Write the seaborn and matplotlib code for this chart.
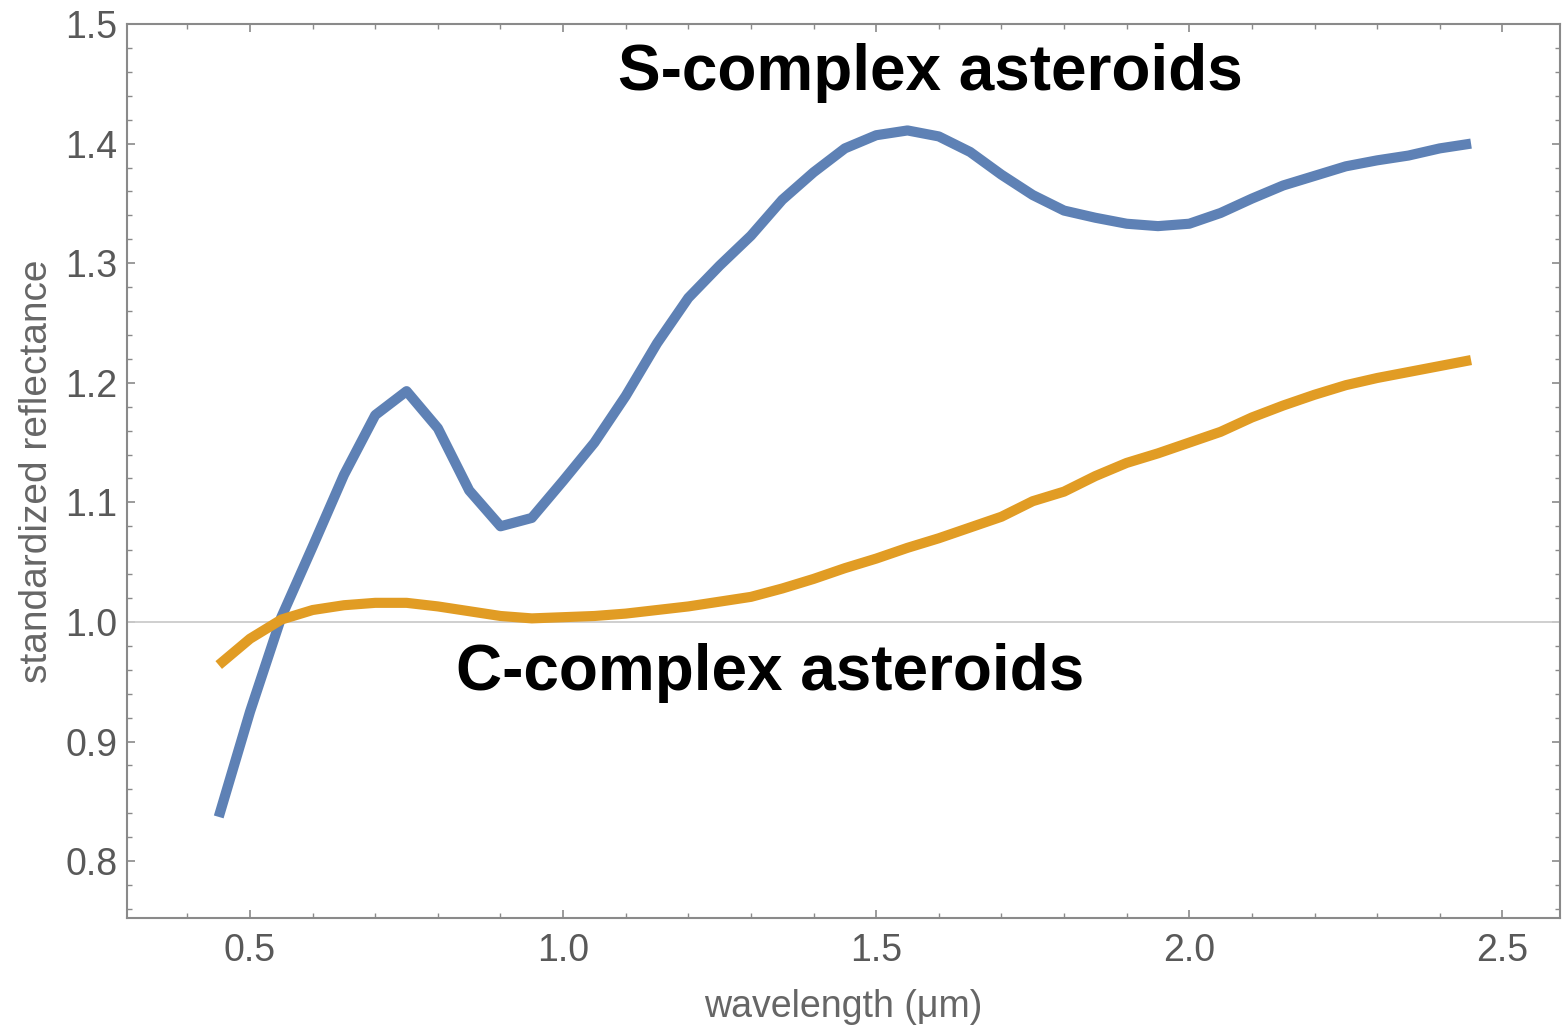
import pandas as pd
import matplotlib
matplotlib.use('Agg')
import matplotlib.pyplot as plt
from matplotlib.ticker import MultipleLocator, FormatStrFormatter
import seaborn as sns

# mean spectra
wavelength = [0.45, 0.50, 0.55, 0.60, 0.65, 0.70, 0.75, 0.80, 0.85, 0.90,
              0.95, 1.00, 1.05, 1.10, 1.15, 1.20, 1.25, 1.30, 1.35, 1.40,
              1.45, 1.50, 1.55, 1.60, 1.65, 1.70, 1.75, 1.80, 1.85, 1.90,
              1.95, 2.00, 2.05, 2.10, 2.15, 2.20, 2.25, 2.30, 2.35, 2.40, 2.45]

s_complex = [0.837, 0.925, 1.004, 1.063, 1.123, 1.173, 1.193, 1.162, 1.110, 1.080,
             1.087, 1.118, 1.150, 1.189, 1.233, 1.271, 1.298, 1.323, 1.353, 1.376,
             1.396, 1.407, 1.411, 1.406, 1.393, 1.374, 1.357, 1.344, 1.338, 1.333,
             1.331, 1.333, 1.342, 1.354, 1.365, 1.373, 1.381, 1.386, 1.390, 1.396, 1.400]

c_complex = [0.964, 0.986, 1.002, 1.010, 1.014, 1.016, 1.016, 1.013, 1.009, 1.005,
             1.003, 1.004, 1.005, 1.007, 1.010, 1.013, 1.017, 1.021, 1.028, 1.036,
             1.045, 1.053, 1.062, 1.070, 1.079, 1.088, 1.101, 1.109, 1.122, 1.133,
             1.141, 1.150, 1.159, 1.171, 1.181, 1.190, 1.198, 1.204, 1.209, 1.214, 1.219]

groups = ['S-complex asteroids', 'C-complex asteroids']
colors = {'S-complex asteroids': '#5e81b5', 'C-complex asteroids': '#e19c24'}

df = pd.DataFrame({
    'wavelength': wavelength + wavelength,
    'reflectance': s_complex + c_complex,
    'group': [groups[0]] * len(wavelength) + [groups[1]] * len(wavelength),
})

sns.set_style('white')
plt.rcParams['font.family'] = ['Liberation Sans', 'DejaVu Sans']

fig = plt.figure(figsize=(15.62, 10.26), dpi=100)
ax = fig.add_axes([0.0813, 0.1053, 0.9174, 0.8713])

ax.axhline(1.0, color='#cccccc', lw=1.3, zorder=1)
sns.lineplot(data=df, x='wavelength', y='reflectance', hue='group', hue_order=groups,
             palette=colors, linewidth=7.3, sort=False, legend=False, ax=ax,
             solid_capstyle='butt', solid_joinstyle='round', zorder=3)

ax.set_xlim(0.3035, 2.592)
ax.set_ylim(0.7525, 1.5)

ax.xaxis.set_major_locator(MultipleLocator(0.5))
ax.xaxis.set_minor_locator(MultipleLocator(0.1))
ax.yaxis.set_major_locator(MultipleLocator(0.1))
ax.yaxis.set_minor_locator(MultipleLocator(0.02))
ax.xaxis.set_major_formatter(FormatStrFormatter('%.1f'))
ax.yaxis.set_major_formatter(FormatStrFormatter('%.1f'))

spine_col = '#8a8a8a'
for sp in ax.spines.values():
    sp.set_visible(True)
    sp.set_color(spine_col)
    sp.set_linewidth(1.5)

ax.tick_params(which='both', direction='in', color=spine_col, top=True, right=True,
               bottom=True, left=True)
ax.tick_params(which='major', length=6, width=1.2, labelsize=27, labelcolor='#595959')
ax.tick_params(which='minor', length=3.6, width=1.0)
ax.tick_params(axis='x', which='major', pad=11)
ax.tick_params(axis='y', which='major', pad=7)

ax.set_xlabel('wavelength (μm)', fontsize=27, color='#666666')
ax.set_ylabel('standardized reflectance', fontsize=28, color='#666666')
ax.xaxis.set_label_coords(0.5, -0.079)
ax.yaxis.set_label_coords(-0.050, 0.5)

ax.text(1.586, 1.445, 'S-complex asteroids', fontsize=46, fontweight='bold',
        ha='center', va='baseline', color='black')
ax.text(1.331, 0.943, 'C-complex asteroids', fontsize=46, fontweight='bold',
        ha='center', va='baseline', color='black')

fig.savefig('out.png', dpi=100)
